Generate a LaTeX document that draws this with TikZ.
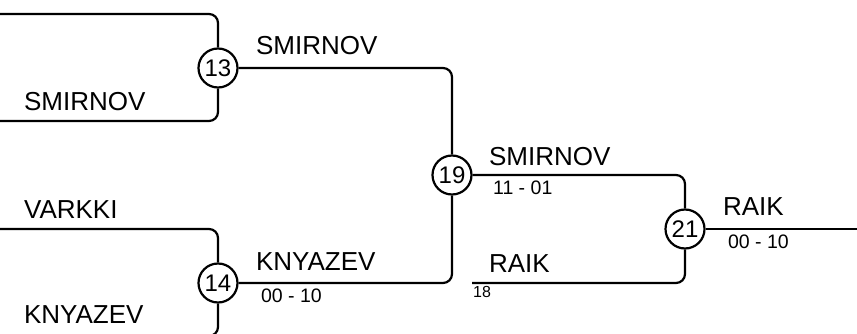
\documentclass[tikz,border=0pt]{standalone}
\usepackage{fontspec}
\setmainfont{Liberation Sans}
\begin{document}
\begin{tikzpicture}[x=1pt,y=-1pt,line width=2.2pt,
		match/.style={draw,circle,minimum size=39pt,inner sep=0pt,font=\fontsize{24}{24}\selectfont},
		player/.style={anchor=base west,inner sep=0pt,font=\fontsize{26}{26}\selectfont},
		score/.style={anchor=base west,inner sep=0pt,font=\fontsize{19.5}{20}\selectfont},
		link/.style={rounded corners=9pt}]
		\useasboundingbox (0,0) rectangle (857,334);
		\node [match] (m13) at (218,68) {13};
		\node [match] (m14) at (218,283) {14};
		\node [match] (m19) at (452,175) {19};
		\node [match] (m21) at (685,229) {21};
		\coordinate (in1) at (0,14);
		\coordinate (in2) at (0,121);
		\coordinate (in3) at (0,229);
		\coordinate (in4) at (0,336);
		\coordinate (in5) at (472,283);
		\coordinate (out) at (857,229);
		\draw [link] (in1)-|(m13);
		\draw [link] (in2)-|(m13);
		\draw [link] (in3)-|(m14);
		\draw [link] (in4)-|(m14);
		\draw [link] (m13)-|(m19);
		\draw [link] (m14)-|(m19);
		\draw [link] (m19)-|(m21);
		\draw [link] (in5)-|(m21);
		\draw (m21)--(out);
		\node [player] (p1) at (23,111) {SMIRNOV};
		\node [player] (p2) at (23,218) {VARKKI};
		\node [player] (p3) at (23,323) {KNYAZEV};
		\node [player] (w13) at (255,55) {SMIRNOV};
		\node [player] (w14) at (255,270) {KNYAZEV};
		\node [player] (w19) at (488,166) {SMIRNOV};
		\node [player] (p5) at (488,272) {RAIK};
		\node [player] (w21) at (722,215) {RAIK};
		\node [score] (s14) at (260,302) {00 - 10};
		\node [score] (s19) at (492,194) {11 - 01};
		\node [score] (s21) at (727,248) {00 - 10};
		\node [anchor=base west,inner sep=0pt,font=\fontsize{16}{16}\selectfont] (src) at (472,297) {18};
\end{tikzpicture}
\end{document}
